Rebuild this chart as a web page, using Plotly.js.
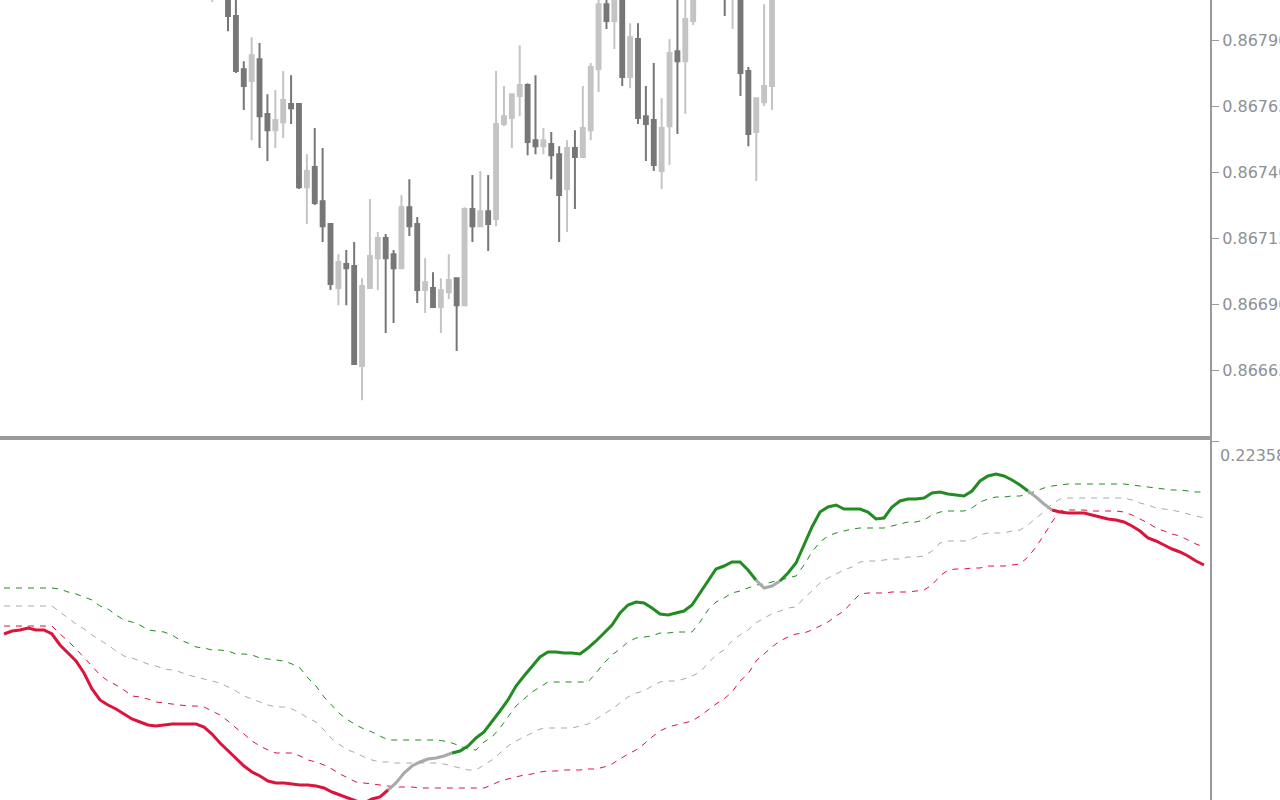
<!DOCTYPE html>
<html>
<head>
<meta charset="utf-8">
<script src="https://cdn.plot.ly/plotly-3.0.1.min.js"></script>
<style>
  html, body { margin: 0; padding: 0; background: #ffffff; }
  #chart { width: 1280px; height: 800px; }
</style>
</head>
<body>
<div id="chart"></div>
<script>
// ---------- Price panel (candles) ----------
const candleIdx = [26,28,29,30,31,32,33,34,35,36,37,38,39,40,41,42,43,44,45,46,47,48,49,50,51,52,53,54,55,56,57,58,59,60,61,62,63,64,65,66,67,68,69,70,71,72,73,74,75,76,77,78,79,80,81,82,83,84,85,86,87,91,92,93,94,95,96,97];
const openP  = [0.868060,0.868165,0.867991,0.867790,0.867745,0.867828,0.867620,0.867559,0.867589,0.867658,0.867658,0.867343,0.867419,0.867290,0.867203,0.866961,0.867052,0.867044,0.866665,0.866961,0.867074,0.867150,0.867089,0.867036,0.867267,0.867203,0.866953,0.866961,0.866889,0.866945,0.866998,0.866896,0.867260,0.867195,0.867252,0.867222,0.867582,0.867605,0.867688,0.867730,0.867521,0.867498,0.867506,0.867468,0.867336,0.867491,0.867457,0.867559,0.867790,0.868036,0.867972,0.868089,0.867760,0.867904,0.867612,0.867597,0.867404,0.867574,0.867858,0.867820,0.867972,0.868150,0.868080,0.868127,0.867783,0.867552,0.867665,0.867726];
const highP  = [0.868150,0.868184,0.868070,0.867820,0.867911,0.867889,0.867695,0.867711,0.867783,0.867767,0.867658,0.867468,0.867567,0.867491,0.867203,0.867089,0.867105,0.867135,0.866998,0.867298,0.867173,0.867165,0.867105,0.867313,0.867373,0.867230,0.867074,0.867021,0.866998,0.867089,0.866998,0.867267,0.867389,0.867404,0.867389,0.867783,0.867726,0.867695,0.867881,0.867737,0.867767,0.867567,0.867552,0.867498,0.867521,0.867559,0.867726,0.867813,0.868063,0.868059,0.868081,0.868105,0.867964,0.867964,0.867726,0.867813,0.867680,0.867904,0.868070,0.868070,0.868105,0.868180,0.868150,0.868150,0.867798,0.867680,0.868036,0.868089];
const lowP   = [0.868044,0.867934,0.867775,0.867635,0.867521,0.867491,0.867442,0.867491,0.867529,0.867582,0.867336,0.867203,0.867275,0.867135,0.866953,0.866896,0.866896,0.866670,0.866536,0.866961,0.866953,0.866790,0.866828,0.867036,0.867158,0.866904,0.866866,0.866889,0.866790,0.866919,0.866722,0.866896,0.867135,0.867195,0.867101,0.867195,0.867574,0.867491,0.867612,0.867464,0.867468,0.867468,0.867373,0.867135,0.867173,0.867260,0.867457,0.867521,0.867703,0.867942,0.867866,0.867726,0.867718,0.867582,0.867442,0.867404,0.867336,0.867427,0.867544,0.867620,0.867957,0.867991,0.867942,0.867688,0.867498,0.867366,0.867650,0.867635];
const closeP = [0.868120,0.867991,0.867783,0.867726,0.867843,0.867612,0.867559,0.867597,0.867673,0.867642,0.867343,0.867404,0.867283,0.867195,0.866976,0.867059,0.867036,0.866673,0.866968,0.867082,0.867150,0.867074,0.867036,0.867267,0.867195,0.866953,0.866983,0.866889,0.866953,0.866991,0.866896,0.867260,0.867195,0.867252,0.867203,0.867582,0.867612,0.867695,0.867730,0.867514,0.867498,0.867521,0.867464,0.867313,0.867491,0.867457,0.867567,0.867798,0.868036,0.867972,0.868070,0.867760,0.867911,0.867605,0.867582,0.867427,0.867567,0.867851,0.867820,0.867980,0.868089,0.868060,0.868120,0.867775,0.867544,0.867680,0.867726,0.868070];
const priceTicks = [0.86790,0.86765,0.86740,0.86715,0.86690,0.86665];
const priceTickText = ['0.86790','0.86765','0.86740','0.86715','0.86690','0.86665'];

// ---------- Indicator panel ----------
const mainLine = [0.0306,0.0336,0.0346,0.0366,0.0346,0.0346,0.0306,0.0196,0.0116,0.0036,
 -0.0084,-0.0244,-0.0354,-0.0404,-0.0444,-0.0494,-0.0544,-0.0574,-0.0604,-0.0614,
 -0.0604,-0.0594,-0.0594,-0.0594,-0.0594,-0.0624,-0.0694,-0.0784,-0.0864,-0.0944,
 -0.1014,-0.1074,-0.1114,-0.1164,-0.1184,-0.1184,-0.1194,-0.1204,-0.1204,-0.1214,
 -0.1234,-0.1274,-0.1304,-0.1334,-0.1364,-0.1384,-0.1344,-0.1324,-0.1254,-0.1184,
 -0.1084,-0.1014,-0.0974,-0.0944,-0.0934,-0.0914,-0.0884,-0.0864,-0.0814,-0.0734,
 -0.0674,-0.0574,-0.0464,-0.0354,-0.0214,-0.0114,-0.0014,0.0076,0.0126,0.0126,
 0.0116,0.0116,0.0106,0.0166,0.0236,0.0316,0.0396,0.0516,0.0596,0.0626,
 0.0616,0.0566,0.0506,0.0496,0.0516,0.0536,0.0596,0.0716,0.0846,0.0956,
 0.0986,0.1026,0.1026,0.0946,0.0846,0.0766,0.0786,0.0836,0.0916,0.1016,
 0.1196,0.1376,0.1526,0.1576,0.1596,0.1556,0.1556,0.1556,0.1526,0.1456,
 0.1466,0.1576,0.1636,0.1656,0.1656,0.1666,0.1716,0.1726,0.1706,0.1696,
 0.1686,0.1736,0.1836,0.1886,0.1906,0.1886,0.1846,0.1796,0.1736,0.1676,
 0.1606,0.1546,0.1526,0.1516,0.1516,0.1516,0.1496,0.1476,0.1456,0.1446,
 0.1426,0.1386,0.1336,0.1266,0.1236,0.1196,0.1156,0.1126,0.1086,0.1036,
 0.0996];
const upperBand = [0.0766,0.0766,0.0766,0.0766,0.0766,0.0766,0.0766,0.0756,0.0726,0.0706,
 0.0676,0.0646,0.0586,0.0556,0.0496,0.0446,0.0426,0.0396,0.0346,0.0336,
 0.0326,0.0296,0.0246,0.0216,0.0176,0.0166,0.0146,0.0146,0.0136,0.0106,
 0.0106,0.0096,0.0066,0.0056,0.0046,0.0036,0.0006,-0.0034,-0.0134,-0.0214,
 -0.0324,-0.0404,-0.0494,-0.0554,-0.0604,-0.0644,-0.0674,-0.0714,-0.0754,-0.0754,
 -0.0754,-0.0754,-0.0754,-0.0754,-0.0754,-0.0764,-0.0784,-0.0814,-0.0844,-0.0854,
 -0.0774,-0.0724,-0.0634,-0.0524,-0.0414,-0.0344,-0.0274,-0.0224,-0.0174,-0.0174,
 -0.0174,-0.0174,-0.0174,-0.0174,-0.0084,0.0016,0.0096,0.0156,0.0226,0.0266,
 0.0276,0.0286,0.0316,0.0316,0.0326,0.0326,0.0326,0.0426,0.0546,0.0626,
 0.0666,0.0716,0.0736,0.0766,0.0796,0.0806,0.0826,0.0846,0.0866,0.0886,
 0.0996,0.1126,0.1226,0.1286,0.1316,0.1336,0.1356,0.1366,0.1366,0.1366,
 0.1366,0.1386,0.1406,0.1426,0.1426,0.1446,0.1496,0.1526,0.1536,0.1536,
 0.1536,0.1566,0.1626,0.1656,0.1676,0.1676,0.1686,0.1686,0.1706,0.1736,
 0.1766,0.1786,0.1796,0.1806,0.1806,0.1806,0.1806,0.1806,0.1806,0.1806,
 0.1806,0.1796,0.1786,0.1776,0.1766,0.1756,0.1746,0.1746,0.1736,0.1726,
 0.1726];
const middleBand = [0.0586,0.0586,0.0586,0.0586,0.0586,0.0586,0.0586,0.0526,0.0466,0.0406,
 0.0356,0.0296,0.0246,0.0196,0.0136,0.0086,0.0066,0.0036,0.0006,-0.0014,
 -0.0044,-0.0054,-0.0074,-0.0104,-0.0124,-0.0144,-0.0164,-0.0184,-0.0224,-0.0264,
 -0.0314,-0.0344,-0.0374,-0.0404,-0.0424,-0.0424,-0.0444,-0.0484,-0.0534,-0.0574,
 -0.0654,-0.0744,-0.0804,-0.0854,-0.0884,-0.0924,-0.0954,-0.0974,-0.0974,-0.0984,
 -0.0984,-0.0984,-0.0984,-0.0984,-0.0984,-0.0994,-0.1014,-0.1034,-0.1054,-0.1054,
 -0.1004,-0.0954,-0.0884,-0.0814,-0.0764,-0.0724,-0.0684,-0.0644,-0.0634,-0.0634,
 -0.0634,-0.0634,-0.0614,-0.0594,-0.0544,-0.0494,-0.0444,-0.0384,-0.0324,-0.0284,
 -0.0264,-0.0214,-0.0174,-0.0164,-0.0164,-0.0144,-0.0114,-0.0074,0.0016,0.0096,
 0.0146,0.0236,0.0296,0.0346,0.0416,0.0466,0.0506,0.0536,0.0566,0.0576,
 0.0666,0.0736,0.0816,0.0866,0.0906,0.0946,0.0976,0.1026,0.1036,0.1036,
 0.1046,0.1056,0.1056,0.1076,0.1076,0.1086,0.1136,0.1216,0.1236,0.1236,
 0.1236,0.1256,0.1296,0.1316,0.1316,0.1316,0.1336,0.1346,0.1396,0.1466,
 0.1526,0.1606,0.1656,0.1666,0.1666,0.1666,0.1666,0.1666,0.1666,0.1666,
 0.1666,0.1646,0.1616,0.1596,0.1566,0.1556,0.1546,0.1526,0.1506,0.1486,
 0.1466];
const lowerBand = [0.0386,0.0386,0.0386,0.0386,0.0386,0.0386,0.0386,0.0306,0.0236,0.0156,
 0.0076,-0.0014,-0.0104,-0.0164,-0.0204,-0.0254,-0.0314,-0.0324,-0.0344,-0.0374,
 -0.0384,-0.0394,-0.0404,-0.0414,-0.0414,-0.0424,-0.0464,-0.0504,-0.0564,-0.0634,
 -0.0694,-0.0764,-0.0814,-0.0854,-0.0884,-0.0884,-0.0884,-0.0914,-0.0954,-0.0974,
 -0.1004,-0.1044,-0.1094,-0.1134,-0.1174,-0.1184,-0.1194,-0.1204,-0.1214,-0.1224,
 -0.1224,-0.1224,-0.1234,-0.1234,-0.1234,-0.1234,-0.1234,-0.1234,-0.1234,-0.1234,
 -0.1234,-0.1204,-0.1164,-0.1144,-0.1124,-0.1104,-0.1094,-0.1074,-0.1064,-0.1064,
 -0.1054,-0.1054,-0.1054,-0.1044,-0.1044,-0.1024,-0.0994,-0.0944,-0.0894,-0.0854,
 -0.0794,-0.0724,-0.0664,-0.0624,-0.0604,-0.0584,-0.0564,-0.0514,-0.0454,-0.0394,
 -0.0344,-0.0274,-0.0164,-0.0094,0.0036,0.0106,0.0176,0.0236,0.0276,0.0306,
 0.0316,0.0346,0.0386,0.0426,0.0486,0.0536,0.0626,0.0706,0.0716,0.0716,
 0.0716,0.0726,0.0726,0.0726,0.0736,0.0746,0.0796,0.0886,0.0946,0.0956,
 0.0956,0.0966,0.0966,0.0986,0.0986,0.0986,0.0996,0.1006,0.1076,0.1176,
 0.1296,0.1426,0.1536,0.1546,0.1546,0.1546,0.1536,0.1536,0.1536,0.1536,
 0.1526,0.1496,0.1456,0.1416,0.1366,0.1336,0.1306,0.1286,0.1246,0.1206,
 0.1176];
// colour state of each indicator bar, as runs: [state, number of bars]
const trendRuns = [['down',49],['flat',8],['up',38],['flat',3],['up',31],['flat',3],['down',19]];
const indTickVals = [0.22358];
const indTickText = ['0.22358'];

// ---------- build ----------
const COL_UP = '#228B22', COL_DN = '#DC143C', COL_FLAT = '#A9A9A9';
const AX = '#9a9a9a', TXT = '#8c9196';

const states = [];
trendRuns.forEach(([s, n]) => { for (let j = 0; j < n; j++) states.push(s); });
const indIdx = mainLine.map((_, i) => i);
function segment(s) {
  return mainLine.map((v, i) => (states[i] === s || states[i + 1] === s) ? v : null);
}

const traces = [
  {
    type: 'candlestick', x: candleIdx, open: openP, high: highP, low: lowP, close: closeP,
    xaxis: 'x', yaxis: 'y',
    increasing: { line: { color: '#c4c4c4', width: 2 }, fillcolor: '#c4c4c4' },
    decreasing: { line: { color: '#777777', width: 2 }, fillcolor: '#777777' },
    whiskerwidth: 0, hoverinfo: 'skip', showlegend: false
  },
  { type: 'scatter', mode: 'lines', x: indIdx, y: upperBand, xaxis: 'x2', yaxis: 'y2',
    line: { color: COL_UP, width: 1, dash: '6px,6px' }, hoverinfo: 'skip', showlegend: false },
  { type: 'scatter', mode: 'lines', x: indIdx, y: middleBand, xaxis: 'x2', yaxis: 'y2',
    line: { color: COL_FLAT, width: 1, dash: '6px,6px' }, hoverinfo: 'skip', showlegend: false },
  { type: 'scatter', mode: 'lines', x: indIdx, y: lowerBand, xaxis: 'x2', yaxis: 'y2',
    line: { color: COL_DN, width: 1, dash: '6px,6px' }, hoverinfo: 'skip', showlegend: false },
  { type: 'scatter', mode: 'lines', x: indIdx, y: segment('flat'), xaxis: 'x2', yaxis: 'y2', connectgaps: false,
    line: { color: COL_FLAT, width: 3 }, hoverinfo: 'skip', showlegend: false },
  { type: 'scatter', mode: 'lines', x: indIdx, y: segment('up'), xaxis: 'x2', yaxis: 'y2', connectgaps: false,
    line: { color: COL_UP, width: 3 }, hoverinfo: 'skip', showlegend: false },
  { type: 'scatter', mode: 'lines', x: indIdx, y: segment('down'), xaxis: 'x2', yaxis: 'y2', connectgaps: false,
    line: { color: COL_DN, width: 3 }, hoverinfo: 'skip', showlegend: false }
];

const tickFont = { family: 'DejaVu Sans, sans-serif', size: 16, color: TXT };

const layout = {
  width: 1280, height: 800,
  margin: { l: 0, r: 70, t: 0, b: 0, pad: 0 },
  paper_bgcolor: '#ffffff', plot_bgcolor: '#ffffff',
  showlegend: false,
  boxgap: 0.3, boxgroupgap: 0.3,
  xaxis: {
    anchor: 'y', range: [-0.92, 152.55], showticklabels: false, ticks: '',
    showgrid: false, zeroline: false, showline: true, linecolor: AX, linewidth: 2,
    rangeslider: { visible: false }, fixedrange: true
  },
  yaxis: {
    domain: [0.4556, 1], side: 'right', range: [0.866402, 0.868052],
    tickmode: 'array', tickvals: priceTicks, ticktext: priceTickText,
    ticks: 'outside', ticklen: 7, tickwidth: 1, tickcolor: AX, tickfont: tickFont,
    showgrid: false, zeroline: false, showline: true, linecolor: AX, linewidth: 2, fixedrange: true
  },
  xaxis2: {
    anchor: 'y2', side: 'top', range: [-0.5, 150.75], showticklabels: false, ticks: '',
    showgrid: false, zeroline: false, showline: true, linecolor: AX, linewidth: 2, fixedrange: true
  },
  yaxis2: {
    domain: [0, 0.45], side: 'right', range: [-0.1354, 0.2246],
    tickmode: 'array', tickvals: indTickVals, ticktext: indTickText, showticklabels: false,
    ticks: 'outside', ticklen: 7, tickwidth: 1, tickcolor: AX,
    showgrid: false, zeroline: false, showline: true, linecolor: AX, linewidth: 2, fixedrange: true
  },
  annotations: indTickVals.map((v, i) => ({
    xref: 'paper', yref: 'y2', x: 1, y: v, text: indTickText[i],
    xanchor: 'left', yanchor: 'middle', xshift: 8, yshift: -14,
    showarrow: false, font: tickFont
  }))
};

Plotly.newPlot('chart', traces, layout, { staticPlot: true, displayModeBar: false });
</script>
</body>
</html>
